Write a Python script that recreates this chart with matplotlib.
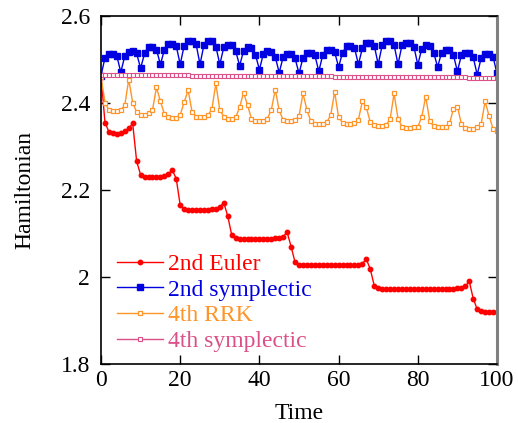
import numpy as np
import matplotlib
matplotlib.use('Agg')
import matplotlib.pyplot as plt

plt.rcParams['font.family'] = ['Liberation Serif', 'DejaVu Serif']
plt.rcParams['font.size'] = 17

time = np.arange(0, 101)

euler2 = [2.463, 2.355, 2.334, 2.330, 2.329, 2.330, 2.335, 2.342, 2.353, 2.266,
          2.235, 2.230, 2.229, 2.229, 2.229, 2.230, 2.233, 2.237, 2.246, 2.226,
          2.165, 2.156, 2.155, 2.155, 2.155, 2.155, 2.155, 2.155, 2.156, 2.157,
          2.161, 2.171, 2.140, 2.097, 2.090, 2.088, 2.088, 2.088, 2.088, 2.088,
          2.088, 2.088, 2.088, 2.088, 2.089, 2.090, 2.093, 2.103, 2.070, 2.034,
          2.028, 2.027, 2.027, 2.027, 2.027, 2.027, 2.027, 2.027, 2.027, 2.027,
          2.027, 2.027, 2.027, 2.027, 2.027, 2.028, 2.031, 2.041, 2.018, 1.980,
          1.974, 1.973, 1.973, 1.973, 1.973, 1.973, 1.973, 1.973, 1.973, 1.973,
          1.973, 1.973, 1.973, 1.973, 1.973, 1.973, 1.973, 1.973, 1.973, 1.973,
          1.974, 1.975, 1.979, 1.990, 1.950, 1.926, 1.921, 1.920, 1.920, 1.920,
          1.920]

symp2 = [2.463, 2.504, 2.513, 2.513, 2.508, 2.471, 2.508, 2.518, 2.520, 2.514,
         2.480, 2.514, 2.528, 2.528, 2.523, 2.489, 2.522, 2.536, 2.536, 2.531,
         2.489, 2.532, 2.543, 2.543, 2.536, 2.489, 2.534, 2.542, 2.542, 2.530,
         2.489, 2.528, 2.534, 2.533, 2.520, 2.486, 2.520, 2.528, 2.527, 2.511,
         2.477, 2.513, 2.519, 2.518, 2.506, 2.470, 2.506, 2.513, 2.513, 2.503,
         2.468, 2.504, 2.516, 2.516, 2.510, 2.473, 2.511, 2.522, 2.522, 2.517,
         2.483, 2.516, 2.531, 2.531, 2.527, 2.489, 2.526, 2.539, 2.539, 2.532,
         2.489, 2.533, 2.543, 2.543, 2.534, 2.489, 2.533, 2.539, 2.539, 2.530,
         2.488, 2.525, 2.533, 2.531, 2.516, 2.483, 2.516, 2.523, 2.522, 2.510,
         2.473, 2.510, 2.516, 2.515, 2.505, 2.465, 2.504, 2.513, 2.513, 2.506,
         2.468]

rrk4 = [2.460, 2.401, 2.384, 2.381, 2.381, 2.384, 2.395, 2.454, 2.401, 2.379,
        2.373, 2.373, 2.376, 2.384, 2.436, 2.404, 2.375, 2.367, 2.366, 2.366,
        2.373, 2.402, 2.430, 2.379, 2.369, 2.367, 2.367, 2.372, 2.386, 2.445,
        2.384, 2.369, 2.364, 2.364, 2.367, 2.390, 2.424, 2.395, 2.364, 2.359,
        2.358, 2.359, 2.364, 2.384, 2.431, 2.383, 2.361, 2.359, 2.359, 2.361,
        2.370, 2.422, 2.384, 2.358, 2.352, 2.351, 2.352, 2.356, 2.372, 2.426,
        2.367, 2.355, 2.352, 2.352, 2.353, 2.362, 2.404, 2.390, 2.356, 2.349,
        2.348, 2.348, 2.350, 2.363, 2.422, 2.364, 2.346, 2.343, 2.343, 2.344,
        2.345, 2.369, 2.415, 2.359, 2.347, 2.344, 2.344, 2.345, 2.353, 2.387,
        2.392, 2.352, 2.343, 2.341, 2.341, 2.344, 2.352, 2.404, 2.370, 2.341,
        2.336]

symp4 = [2.464, 2.464, 2.464, 2.464, 2.464, 2.464, 2.464, 2.464, 2.464, 2.464,
         2.464, 2.464, 2.464, 2.464, 2.464, 2.464, 2.464, 2.464, 2.464, 2.464,
         2.464, 2.464, 2.464, 2.463, 2.463, 2.463, 2.463, 2.463, 2.463, 2.463,
         2.463, 2.463, 2.463, 2.463, 2.463, 2.463, 2.463, 2.463, 2.463, 2.463,
         2.463, 2.463, 2.463, 2.463, 2.463, 2.463, 2.463, 2.463, 2.463, 2.462,
         2.462, 2.462, 2.462, 2.462, 2.462, 2.462, 2.462, 2.462, 2.462, 2.461,
         2.461, 2.461, 2.461, 2.461, 2.461, 2.461, 2.461, 2.461, 2.461, 2.461,
         2.461, 2.460, 2.460, 2.460, 2.460, 2.460, 2.460, 2.460, 2.460, 2.460,
         2.460, 2.460, 2.460, 2.459, 2.459, 2.459, 2.459, 2.459, 2.459, 2.459,
         2.459, 2.459, 2.459, 2.458, 2.458, 2.458, 2.458, 2.458, 2.458, 2.458,
         2.458]

labels = ['2nd Euler', '2nd symplectic', '4th RRK', '4th symplectic']
colors = ['#ff0000', '#0000e0', '#ff9428', '#db5088']

fig = plt.figure(figsize=(5.18, 4.23), dpi=100)
ax = fig.add_axes([0.195, 0.1395, 0.7645, 0.8225])

ax.plot(time, euler2, color=colors[0], lw=1.0, marker='o', ms=3.2,
        mec=colors[0], mfc=colors[0], label=labels[0])
ax.plot(time, symp2, color=colors[1], lw=1.0, marker='s', ms=4.5,
        mec=colors[1], mfc=colors[1], label=labels[1])
ax.plot(time, rrk4, color=colors[2], lw=1.0, marker='s', ms=3.3,
        mec=colors[2], mfc='white', mew=0.9, label=labels[2])
ax.plot(time, symp4, color=colors[3], lw=1.0, marker='s', ms=2.9,
        mec=colors[3], mfc='white', mew=0.8, label=labels[3])

ax.set_xlim(0, 100)
ax.set_ylim(1.8, 2.6)
ax.set_xticks([0, 20, 40, 60, 80, 100])
ax.set_yticks([1.8, 2.0, 2.2, 2.4, 2.6])
ax.set_yticklabels(['1.8', '2', '2.2', '2.4', '2.6'])
ax.tick_params(direction='in', length=6.5, width=1, top=True, right=True)
ax.tick_params(axis='x', pad=4)
ax.tick_params(axis='y', pad=8)
for s in ['left', 'bottom', 'top']:
    ax.spines[s].set_linewidth(1.2)
ax.spines['right'].set_color('#808080')
ax.spines['right'].set_linewidth(2.2)

ax.set_xlabel('Time', labelpad=9)
ax.set_ylabel('Hamiltonian', labelpad=18)

leg = ax.legend(loc='upper left', bbox_to_anchor=(0.04, 0.318), frameon=False,
                handlelength=1.95, handletextpad=0.2, labelspacing=0.18,
                borderpad=0, borderaxespad=0)
for txt, c in zip(leg.get_texts(), colors):
    txt.set_color(c)

fig.savefig('out.png', dpi=100)
